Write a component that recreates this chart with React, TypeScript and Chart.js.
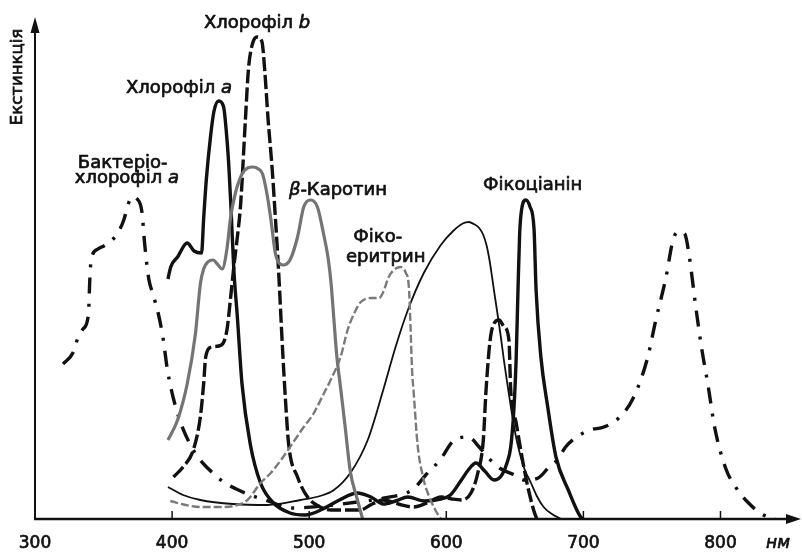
import React, { useEffect, useRef } from "react";
import { Chart, registerables } from "chart.js";

Chart.register(...registerables);

const FONT = '"DejaVu Sans", "Open Sans", sans-serif';

// x axis (nm)
const xMin = 300;
const xMax = 858;
const xTickValues = [300, 400, 500, 600, 700, 800];
const yMin = 0;
const yMax = 100;

// Бактеріохлорофіл a (dash-dot)
const bchlX = [320.5, 328, 331, 335, 339, 340, 341, 346, 357, 362, 365, 368, 371, 374.5, 378, 380, 383, 386, 390, 393.5, 396.5, 402, 413, 433, 450, 470, 488, 510, 535, 555, 576, 585, 596, 605, 616, 624, 630, 640, 650, 657, 667, 675, 681, 687, 694, 705, 715, 725, 736, 746.6, 753, 760, 765.6, 770, 774, 777, 781.7, 786, 791, 796, 804, 812, 820.5, 830, 840];
const bchlY = [31, 33.4, 36, 38, 41, 48, 52, 54, 56, 58, 60, 63, 64.4, 64, 61.4, 55, 48, 45, 41, 36, 30, 23, 15, 8.4, 5.6, 3.6, 2.2, 2.6, 3.4, 4.2, 6, 8.8, 12, 15.6, 16.4, 14.4, 12.4, 10, 8.8, 7.8, 8.2, 10.4, 11.8, 14.4, 16.2, 17.8, 18.4, 20, 24, 32, 40, 48, 56, 57.5, 57, 53, 43, 34.6, 26.6, 18, 10, 6, 3.2, 1, 0];

// Хлорофіл a (thick solid)
const chlAX = [397, 399, 404, 411, 416, 421.5, 423, 425, 428, 430.5, 434, 437.5, 440, 441.5, 443, 445, 447.6, 451, 457, 464.5, 474, 486, 497, 510, 522, 535, 545, 554, 563, 572, 584, 596, 603, 611, 616, 621.6, 628, 634.8, 640, 644, 647, 649.4, 651, 652.3, 653.5, 655, 658, 661, 664, 665.5, 669, 674, 680, 689, 698, 700];
const chlAY = [48, 50.4, 52.4, 55.2, 53.6, 53.2, 60, 68, 76.4, 81.5, 83.6, 82.5, 76, 70, 62, 50, 40.4, 27, 15, 7.2, 3.2, 1.2, 0.8, 2, 3.8, 5.2, 4.4, 3, 3.6, 4.4, 3.6, 4, 4.8, 7.8, 9.8, 11.2, 9.6, 7.8, 8.6, 11, 14.4, 22.4, 32.4, 45.8, 57, 62, 63.8, 62.5, 58, 45.8, 32.4, 22.4, 12.4, 5.8, 0.4, 0];

// Хлорофіл b (thick dashed)
const chlBX = [401, 408, 415.5, 420.6, 423, 424.5, 429, 436, 440, 442.5, 445, 447, 450, 453.5, 455.7, 458.6, 462, 465.5, 467.5, 470, 473, 475.4, 477.6, 480.6, 482.7, 485, 491.5, 498.8, 508, 516, 526, 537, 546, 554, 565, 576, 586, 596, 604, 611, 618, 623, 627, 629, 632, 635, 638.5, 642, 645.7, 647, 651, 656, 660, 665.5, 667];
const chlBY = [8.4, 10.4, 13.8, 20.4, 27, 32.4, 34.4, 34.8, 37.8, 43.8, 50.4, 55, 63, 80, 90, 95, 96.4, 95.5, 90, 80, 70, 60, 50, 33.8, 23.8, 15, 8.4, 4.4, 2.4, 1.8, 1.8, 1.8, 3, 3.8, 3, 2.4, 3.2, 4.4, 4, 3.8, 5.2, 9.2, 15.8, 25.8, 35.8, 39.2, 39.8, 38.5, 35.8, 25.8, 19.2, 11.2, 5.8, 0.4, 0];

// β-Каротин (grey solid)
const carX = [397, 404, 411, 417, 420.6, 423, 426, 430, 433, 436.5, 440, 442.5, 446, 451, 455, 459, 463, 466, 469.6, 472, 475.4, 478, 481, 486, 491.5, 496, 501, 506, 510.5, 514, 516, 518, 520, 523, 526, 530, 535, 539];
const carY = [15.8, 19.8, 27, 37, 47, 50, 51.4, 51.8, 51, 50, 54, 60, 65, 69, 70.2, 70.4, 70, 69, 64.4, 60, 53, 51.2, 50.8, 51.8, 56.4, 62.4, 63.8, 62.4, 57, 51.8, 47, 40, 33, 26, 19, 9.5, 4, 0];

// Фікоеритрин (grey dashed)
const pheX = [398.7, 410, 420, 435, 445, 455, 464.5, 472, 481, 490, 496, 503, 510.5, 516, 523, 528, 534, 537.6, 545, 551, 554, 558, 561.7, 566.8, 570.5, 572.7, 574, 575, 576.3, 579, 583, 586.5, 592, 596];
const pheY = [3.6, 2.8, 2.4, 2.4, 2.6, 3.8, 7.2, 9.2, 12.4, 16, 18.4, 21, 25, 28, 32.5, 37.8, 41.8, 43.4, 44.2, 44.2, 45.4, 48.4, 49.8, 50.4, 49.2, 46.4, 37.8, 30, 25, 15, 8.4, 5.2, 1.8, 0];

// Фікоціанін (thin solid)
const phcX = [397, 408, 420.6, 444.7, 469.6, 493.7, 508, 518, 530, 542.7, 554, 563, 572, 583.6, 596, 605, 612, 616.5, 620, 624, 627, 629.5, 631.5, 633.5, 635.5, 637.7, 640, 642, 645, 647, 650, 653, 657, 661.8, 666, 671, 677, 684];
const phcY = [6.4, 4.8, 3.8, 3, 2.8, 3.8, 4.6, 5.8, 9.2, 15.8, 25.8, 34.4, 41.8, 49.2, 54.8, 57.6, 59.1, 59.4, 59, 58.2, 56.8, 54.6, 51.8, 48.2, 44.4, 40.4, 36, 31.8, 26.2, 22.6, 17.6, 13.8, 10, 7.2, 4.6, 2.4, 1, 0];

// Annotation labels (position in data units: nm, extinction of baseline)
const labelPlain = ["Хлорофіл ", "Хлорофіл ", "Бактеріо-", "хлорофіл ", "", "Фіко-", "еритрин", "Фікоціанін"];
const labelItalicPrefix = ["", "", "", "", "β", "", "", ""];
const labelItalicSuffix = ["b", "a", "", "a", "", "", "", ""];
const labelRest = ["", "", "", "", "-Каротин", "", "", ""];
const labelNm = [462, 405, 364, 367, 521, 550, 555.8, 663];
const labelVal = [98.2, 85.2, 70.2, 67.2, 64.8, 55.4, 51.4, 65.8];

const yTitle = "Екстинкція";
const xUnit = "нм";

function pts(xs: number[], ys: number[]) {
  return xs.map((x, i) => ({ x, y: ys[i] }));
}

function boldText(ctx: CanvasRenderingContext2D, t: string, x: number, y: number) {
  ctx.fillText(t, x, y);
  ctx.strokeText(t, x, y);
}

const annotPlugin = {
  id: "annot",
  afterDatasetsDraw(chart: any) {
    const ctx: CanvasRenderingContext2D = chart.ctx;
    const { left, right, top, bottom } = chart.chartArea;
    const xs = chart.scales.x;
    const ys = chart.scales.y;
    ctx.save();
    ctx.strokeStyle = "#111";
    ctx.fillStyle = "#111";
    ctx.lineCap = "butt";

    // y axis with arrow
    ctx.lineWidth = 2;
    ctx.beginPath();
    ctx.moveTo(left, bottom);
    ctx.lineTo(left, top + 8);
    ctx.stroke();
    ctx.beginPath();
    ctx.moveTo(left, top - 2);
    ctx.lineTo(left - 4.5, top + 14);
    ctx.lineTo(left + 4.5, top + 14);
    ctx.closePath();
    ctx.fill();

    // x axis with arrow
    ctx.lineWidth = 2.5;
    ctx.beginPath();
    ctx.moveTo(left - 1, bottom);
    ctx.lineTo(right - 8, bottom);
    ctx.stroke();
    ctx.beginPath();
    ctx.moveTo(right + 1, bottom);
    ctx.lineTo(right - 14, bottom - 5);
    ctx.lineTo(right - 14, bottom + 5);
    ctx.closePath();
    ctx.fill();

    // tick marks (inside, upward)
    ctx.lineWidth = 1.5;
    xTickValues.forEach((v) => {
      if (v === xMin) return;
      const px = xs.getPixelForValue(v);
      ctx.beginPath();
      ctx.moveTo(px, bottom);
      ctx.lineTo(px, bottom - 8);
      ctx.stroke();
    });

    // tick labels
    ctx.lineWidth = 0.7;
    ctx.lineJoin = "round";
    ctx.font = `17px ${FONT}`;
    ctx.textAlign = "center";
    ctx.textBaseline = "alphabetic";
    xTickValues.forEach((v) => {
      boldText(ctx, String(v), xs.getPixelForValue(v), bottom + 29);
    });

    // curve labels
    const normal = `18px ${FONT}`;
    const italic = `italic 18px ${FONT}`;
    ctx.textAlign = "left";
    labelPlain.forEach((_, i) => {
      const segs: [string, string][] = [];
      if (labelItalicPrefix[i]) segs.push([labelItalicPrefix[i], italic]);
      if (labelPlain[i]) segs.push([labelPlain[i], normal]);
      if (labelItalicSuffix[i]) segs.push([labelItalicSuffix[i], italic]);
      if (labelRest[i]) segs.push([labelRest[i], normal]);
      let w = 0;
      segs.forEach(([t, f]) => {
        ctx.font = f;
        w += ctx.measureText(t).width;
      });
      let x = xs.getPixelForValue(labelNm[i]) - w / 2;
      const y = ys.getPixelForValue(labelVal[i]);
      segs.forEach(([t, f]) => {
        ctx.font = f;
        boldText(ctx, t, x, y);
        x += ctx.measureText(t).width;
      });
    });

    // y axis title
    ctx.save();
    ctx.font = `16.5px ${FONT}`;
    ctx.textAlign = "center";
    ctx.translate(left - 13, ys.getPixelForValue(88.4));
    ctx.rotate(-Math.PI / 2);
    boldText(ctx, yTitle, 0, 0);
    ctx.restore();

    // unit
    ctx.font = `italic 17px ${FONT}`;
    ctx.textAlign = "center";
    boldText(ctx, xUnit, xs.getPixelForValue(842), bottom + 29);

    ctx.restore();
  },
};

export default function App() {
  const ref = useRef<HTMLCanvasElement | null>(null);
  useEffect(() => {
    if (!ref.current) return;
    const common = {
      pointRadius: 0,
      pointHoverRadius: 0,
      fill: false,
      cubicInterpolationMode: "monotone" as const,
    };
    const chart = new Chart(ref.current, {
      type: "line",
      data: {
        datasets: [
          { ...common, label: "β-Каротин", data: pts(carX, carY), borderColor: "#747474", borderWidth: 3.2 },
          { ...common, label: "Фікоеритрин", data: pts(pheX, pheY), borderColor: "#7a7a7a", borderWidth: 2.4, borderDash: [8, 3] },
          { ...common, label: "Фікоціанін", data: pts(phcX, phcY), borderColor: "#111", borderWidth: 1.8 },
          { ...common, label: "Бактеріохлорофіл a", data: pts(bchlX, bchlY), borderColor: "#111", borderWidth: 3.4, borderDash: [16, 10, 3, 10] },
          { ...common, label: "Хлорофіл b", data: pts(chlBX, chlBY), borderColor: "#111", borderWidth: 3.4, borderDash: [14, 4] },
          { ...common, label: "Хлорофіл a", data: pts(chlAX, chlAY), borderColor: "#111", borderWidth: 3.4 },
        ],
      },
      options: {
        animation: false,
        responsive: false,
        maintainAspectRatio: false,
        layout: { padding: { left: 35, right: 2, top: 19, bottom: 33 } },
        plugins: {
          legend: { display: false },
          tooltip: { enabled: false },
        },
        events: [],
        scales: {
          x: {
            type: "linear",
            min: xMin,
            max: xMax,
            display: false,
          },
          y: {
            type: "linear",
            min: yMin,
            max: yMax,
            display: false,
          },
        },
      },
      plugins: [annotPlugin],
    });
    return () => chart.destroy();
  }, []);
  return (
    <div style={{ position: "absolute", left: 0, top: 0, width: 802, height: 552, background: "#fff" }}>
      <canvas ref={ref} width={802} height={552} style={{ display: "block" }} />
    </div>
  );
}
